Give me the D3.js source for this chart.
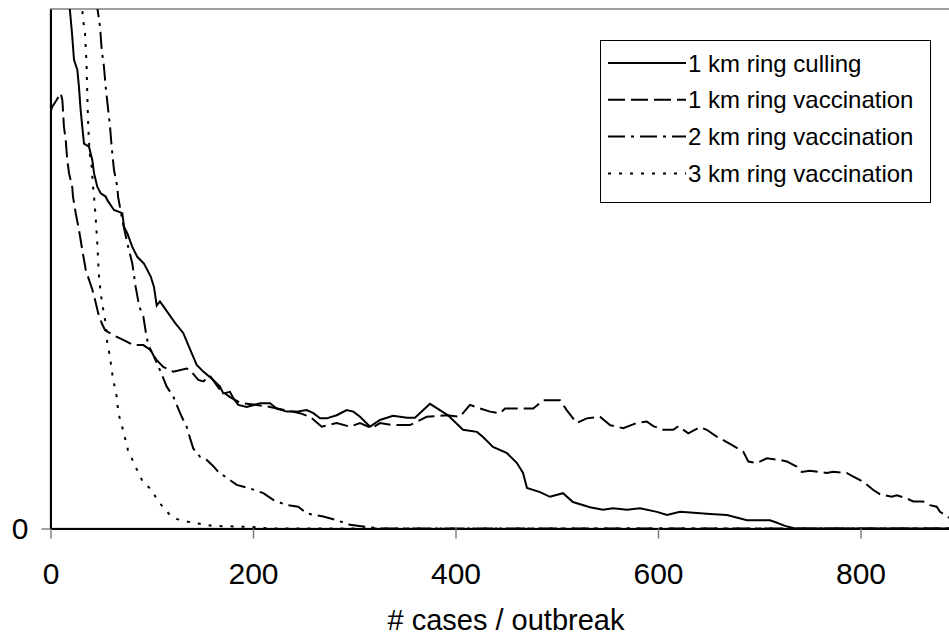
<!DOCTYPE html>
<html>
<head>
<meta charset="utf-8">
<script src="https://cdn.jsdelivr.net/npm/d3@7"></script>
<style>
  body { margin: 0; background: #fff; }
  svg text { font-family: "Liberation Sans", Arial, sans-serif; fill: #000; }
</style>
</head>
<body>
<div id="chart"></div>
<script>
// Series names (legend order)
const seriesNames = ["1 km ring culling", "1 km ring vaccination", "2 km ring vaccination", "3 km ring vaccination"];

// x ticks and y ticks
const xTicks = [0, 200, 400, 600, 800];
const yTicks = [0];

// [cases per outbreak, relative frequency]
const culling = [
  [18.3, 101.7], [21.2, 95.4], [23.2, 90.2], [26.5, 88.3], [28.1, 85.0], [29.8, 80.5], [31.4, 77.3],
  [33.1, 74.1], [38.0, 73.5], [41.3, 70.9], [43.0, 68.4], [46.2, 65.8], [49.6, 64.5], [54.5, 63.9],
  [56.1, 63.2], [62.7, 61.3], [70.9, 60.7], [72.6, 58.1], [75.9, 56.8], [80.8, 54.2], [85.7, 52.3],
  [92.3, 51.0], [99.0, 48.5], [102.2, 46.5], [104.9, 42.9], [108.1, 43.7], [123.0, 39.6], [131.2, 37.6],
  [136.1, 35.3], [144.4, 31.5], [150.9, 30.2], [160.8, 28.6], [167.4, 27.3], [170.7, 26.0], [177.3, 26.3],
  [180.5, 25.1], [185.5, 23.8], [193.8, 23.4], [206.9, 24.1], [216.8, 24.1], [223.4, 23.1], [233.3, 22.5],
  [243.2, 22.5], [253.0, 22.8], [259.6, 22.2], [266.2, 21.2], [272.8, 21.2], [282.7, 21.8], [292.5, 22.8],
  [299.1, 22.5], [305.7, 21.5], [315.6, 19.6], [325.4, 20.9], [338.3, 21.7], [352.1, 21.3], [360.0, 21.3],
  [374.8, 24.0], [387.7, 22.4], [392.6, 21.8], [407.4, 19.0], [421.2, 18.6], [427.2, 17.6], [437.0, 15.7],
  [450.9, 14.5], [460.7, 12.6], [466.7, 10.7], [470.6, 7.8], [483.5, 7.0], [493.3, 6.1], [506.2, 6.8],
  [516.0, 5.1], [532.8, 4.1], [545.7, 3.6], [555.6, 3.9], [569.4, 3.6], [582.2, 3.9], [599.0, 3.2],
  [608.9, 2.6], [621.7, 3.2], [638.5, 3.0], [651.4, 2.8], [668.1, 2.6], [687.9, 1.6], [710.6, 1.6],
  [717.5, 1.1], [725.4, 0.5], [735.3, 0], [900, 0]
];

const vacc1 = [
  [0, 80.2], [1.8, 81.2], [5.1, 82.2], [10.1, 83.8], [11.7, 82.5], [13.3, 77.3], [15.0, 74.8],
  [16.6, 70.9], [18.3, 68.4], [21.5, 65.7], [22.2, 63.9], [24.9, 60.7], [28.1, 57.5], [31.4, 53.6],
  [34.8, 49.8], [38.0, 47.9], [41.3, 46.0], [44.0, 44.0], [47.2, 41.4], [50.6, 39.5], [53.8, 38.2],
  [62.0, 37.2], [71.9, 36.3], [81.8, 35.3], [91.7, 35.3], [98.3, 34.4], [104.9, 32.4], [111.4, 31.1],
  [121.3, 30.2], [134.5, 30.8], [137.8, 30.5], [146.0, 28.6], [150.9, 28.3], [157.5, 29.4], [167.4, 26.7],
  [177.3, 25.3], [187.2, 24.2], [202.0, 23.8], [216.8, 23.4], [231.6, 22.8], [246.4, 22.2], [256.3, 21.5],
  [267.9, 19.6], [282.7, 20.3], [295.8, 19.6], [305.7, 20.3], [317.2, 19.3], [325.4, 20.3], [338.6, 19.9],
  [355.1, 19.9], [371.6, 21.5], [391.3, 21.8], [404.4, 21.5], [414.3, 23.8], [424.2, 23.1], [434.1, 22.5],
  [443.9, 22.2], [448.9, 23.1], [460.4, 23.1], [476.8, 23.1], [486.7, 24.7], [503.2, 24.7], [509.8, 22.8],
  [519.7, 20.3], [529.6, 21.2], [542.7, 21.5], [552.6, 19.9], [565.7, 19.3], [579.0, 20.3], [588.8, 20.6],
  [595.4, 19.7], [605.2, 19.0], [615.1, 19.0], [620.0, 19.7], [629.9, 18.3], [641.5, 19.5], [648.1, 19.0],
  [658.0, 17.7], [672.8, 16.1], [684.2, 14.8], [689.2, 12.9], [697.5, 12.6], [707.4, 13.5], [720.5, 13.2],
  [727.1, 12.9], [737.0, 11.9], [741.9, 10.9], [750.1, 11.1], [766.6, 10.7], [773.1, 10.9], [786.4, 10.7],
  [792.9, 10.0], [802.8, 9.0], [812.6, 7.4], [819.3, 6.6], [830.8, 6.1], [835.8, 6.4], [845.6, 5.8],
  [852.1, 5.2], [862.0, 5.2], [868.6, 4.5], [875.3, 4.2], [878.5, 3.2], [885.1, 2.4], [893.3, 1.3],
  [900, 0.5]
];

const vacc2 = [
  [45.4, 101.7], [46.6, 99.8], [48.9, 96.6], [50.6, 92.1], [52.8, 88.9], [54.5, 85.0], [56.3, 81.8],
  [58.8, 77.3], [60.4, 73.5], [62.7, 69.0], [66.0, 65.8], [66.7, 63.9], [70.9, 59.4], [75.9, 54.9],
  [80.8, 51.0], [84.1, 46.5], [87.7, 42.7], [91.7, 40.8], [94.3, 37.6], [96.6, 35.3], [101.5, 33.4],
  [108.1, 30.5], [114.8, 27.3], [121.3, 25.4], [124.6, 23.8], [129.6, 21.5], [134.5, 19.6], [137.8, 17.4],
  [141.0, 15.4], [147.7, 13.8], [154.3, 13.2], [160.8, 12.0], [165.7, 10.9], [172.3, 10.0], [183.9, 8.4],
  [197.0, 7.7], [210.2, 6.8], [220.0, 5.5], [233.3, 4.5], [244.7, 4.2], [253.0, 2.9], [269.4, 2.3],
  [282.7, 1.6], [295.8, 0.7], [312.3, 0.3], [325.4, 0], [900, 0]
];

const vacc3 = [
  [31.1, 101.7], [31.8, 98.5], [34.1, 95.3], [35.6, 89.5], [36.3, 83.8], [37.3, 77.3], [38.7, 72.2],
  [40.7, 69.6], [42.0, 65.8], [43.0, 63.9], [44.6, 60.0], [46.2, 54.9], [47.9, 48.5], [49.6, 45.3],
  [52.1, 42.1], [54.5, 39.5], [56.1, 35.6], [58.8, 33.1], [60.4, 30.5], [62.0, 28.6], [65.4, 25.4],
  [67.0, 22.2], [71.6, 19.0], [76.5, 15.1], [85.4, 11.3], [91.4, 8.9], [100.2, 7.4], [104.2, 5.9],
  [111.1, 4.1], [118.0, 2.6], [125.0, 1.8], [135.8, 1.3], [147.7, 0.9], [160.5, 0.5], [200, 0.3],
  [216.8, 0], [900, 0]
];

const seriesData = [culling, vacc1, vacc2, vacc3];
const dashes = [null, "17,6", "17,6,3,6", "3,8"];

// Dimensions
let width = 949, height = 637;
let plot = { left: 50.5, top: 9, right: 961.75, bottom: 528.5 };

let svg = d3.select("#chart")
  .append("svg")
  .attr("width", width)
  .attr("height", height);

// Scales
let x = d3.scaleLinear().domain([0, 900]).range([plot.left, plot.right]);
let y = d3.scaleLinear().domain([0, 100]).range([plot.bottom, plot.top]);

// Plot area border
svg.append("rect")
  .attr("x", plot.left)
  .attr("y", plot.top)
  .attr("width", plot.right - plot.left)
  .attr("height", plot.bottom - plot.top)
  .attr("fill", "none")
  .attr("stroke", "#808080")
  .attr("stroke-width", 1.5);

svg.append("clipPath")
  .attr("id", "clip")
  .append("rect")
  .attr("x", plot.left)
  .attr("y", plot.top)
  .attr("width", plot.right - plot.left)
  .attr("height", plot.bottom - plot.top + 2);

// Lines
let line = d3.line().x(d => x(d[0])).y(d => y(d[1]));

svg.append("g")
  .attr("clip-path", "url(#clip)")
  .selectAll("path")
  .data(seriesData)
  .join("path")
  .attr("d", line)
  .attr("fill", "none")
  .attr("stroke", "#000")
  .attr("stroke-width", 2)
  .attr("stroke-dasharray", (d, i) => dashes[i]);

// x-axis
let xAxisEl = svg.append("g")
  .attr("transform", "translate(0," + plot.bottom + ")")
  .call(d3.axisBottom(x).tickValues(xTicks).tickSize(10).tickSizeOuter(0).tickPadding(24));
xAxisEl.select(".domain").attr("stroke", "#000").attr("stroke-width", 2);
xAxisEl.selectAll(".tick line").attr("stroke", "#808080").attr("stroke-width", 1.5);
xAxisEl.selectAll(".tick text").style("font-size", "30px").style("font-family", "Liberation Sans, Arial, sans-serif");

xAxisEl.append("text")
  .attr("x", 506)
  .attr("y", 630 - plot.bottom)
  .attr("text-anchor", "middle")
  .style("font-size", "29px")
  .text("# cases / outbreak");

// y-axis
let yAxisEl = svg.append("g")
  .attr("transform", "translate(" + plot.left + ",0)")
  .call(d3.axisLeft(y).tickValues(yTicks).tickSize(9).tickSizeOuter(0).tickPadding(13));
yAxisEl.select(".domain").attr("stroke", "#000").attr("stroke-width", 2);
yAxisEl.selectAll(".tick line").attr("stroke", "#808080").attr("stroke-width", 1.5);
yAxisEl.selectAll(".tick text").style("font-size", "30px").style("font-family", "Liberation Sans, Arial, sans-serif");

// Legend
let legend = svg.append("g");
legend.append("rect")
  .attr("x", 600.5)
  .attr("y", 40.5)
  .attr("width", 330)
  .attr("height", 162)
  .attr("fill", "#fff")
  .attr("stroke", "#000")
  .attr("stroke-width", 1);

let rows = legend.selectAll("g.row")
  .data(seriesNames)
  .join("g")
  .attr("class", "row")
  .attr("transform", (d, i) => "translate(0," + (63 + i * 36.8) + ")");

rows.append("line")
  .attr("x1", 608)
  .attr("x2", 686)
  .attr("stroke", "#000")
  .attr("stroke-width", 2)
  .attr("stroke-dasharray", (d, i) => dashes[i]);

rows.append("text")
  .attr("x", 688)
  .attr("dy", "0.36em")
  .style("font-size", "24px")
  .text(d => d);
</script>
</body>
</html>
